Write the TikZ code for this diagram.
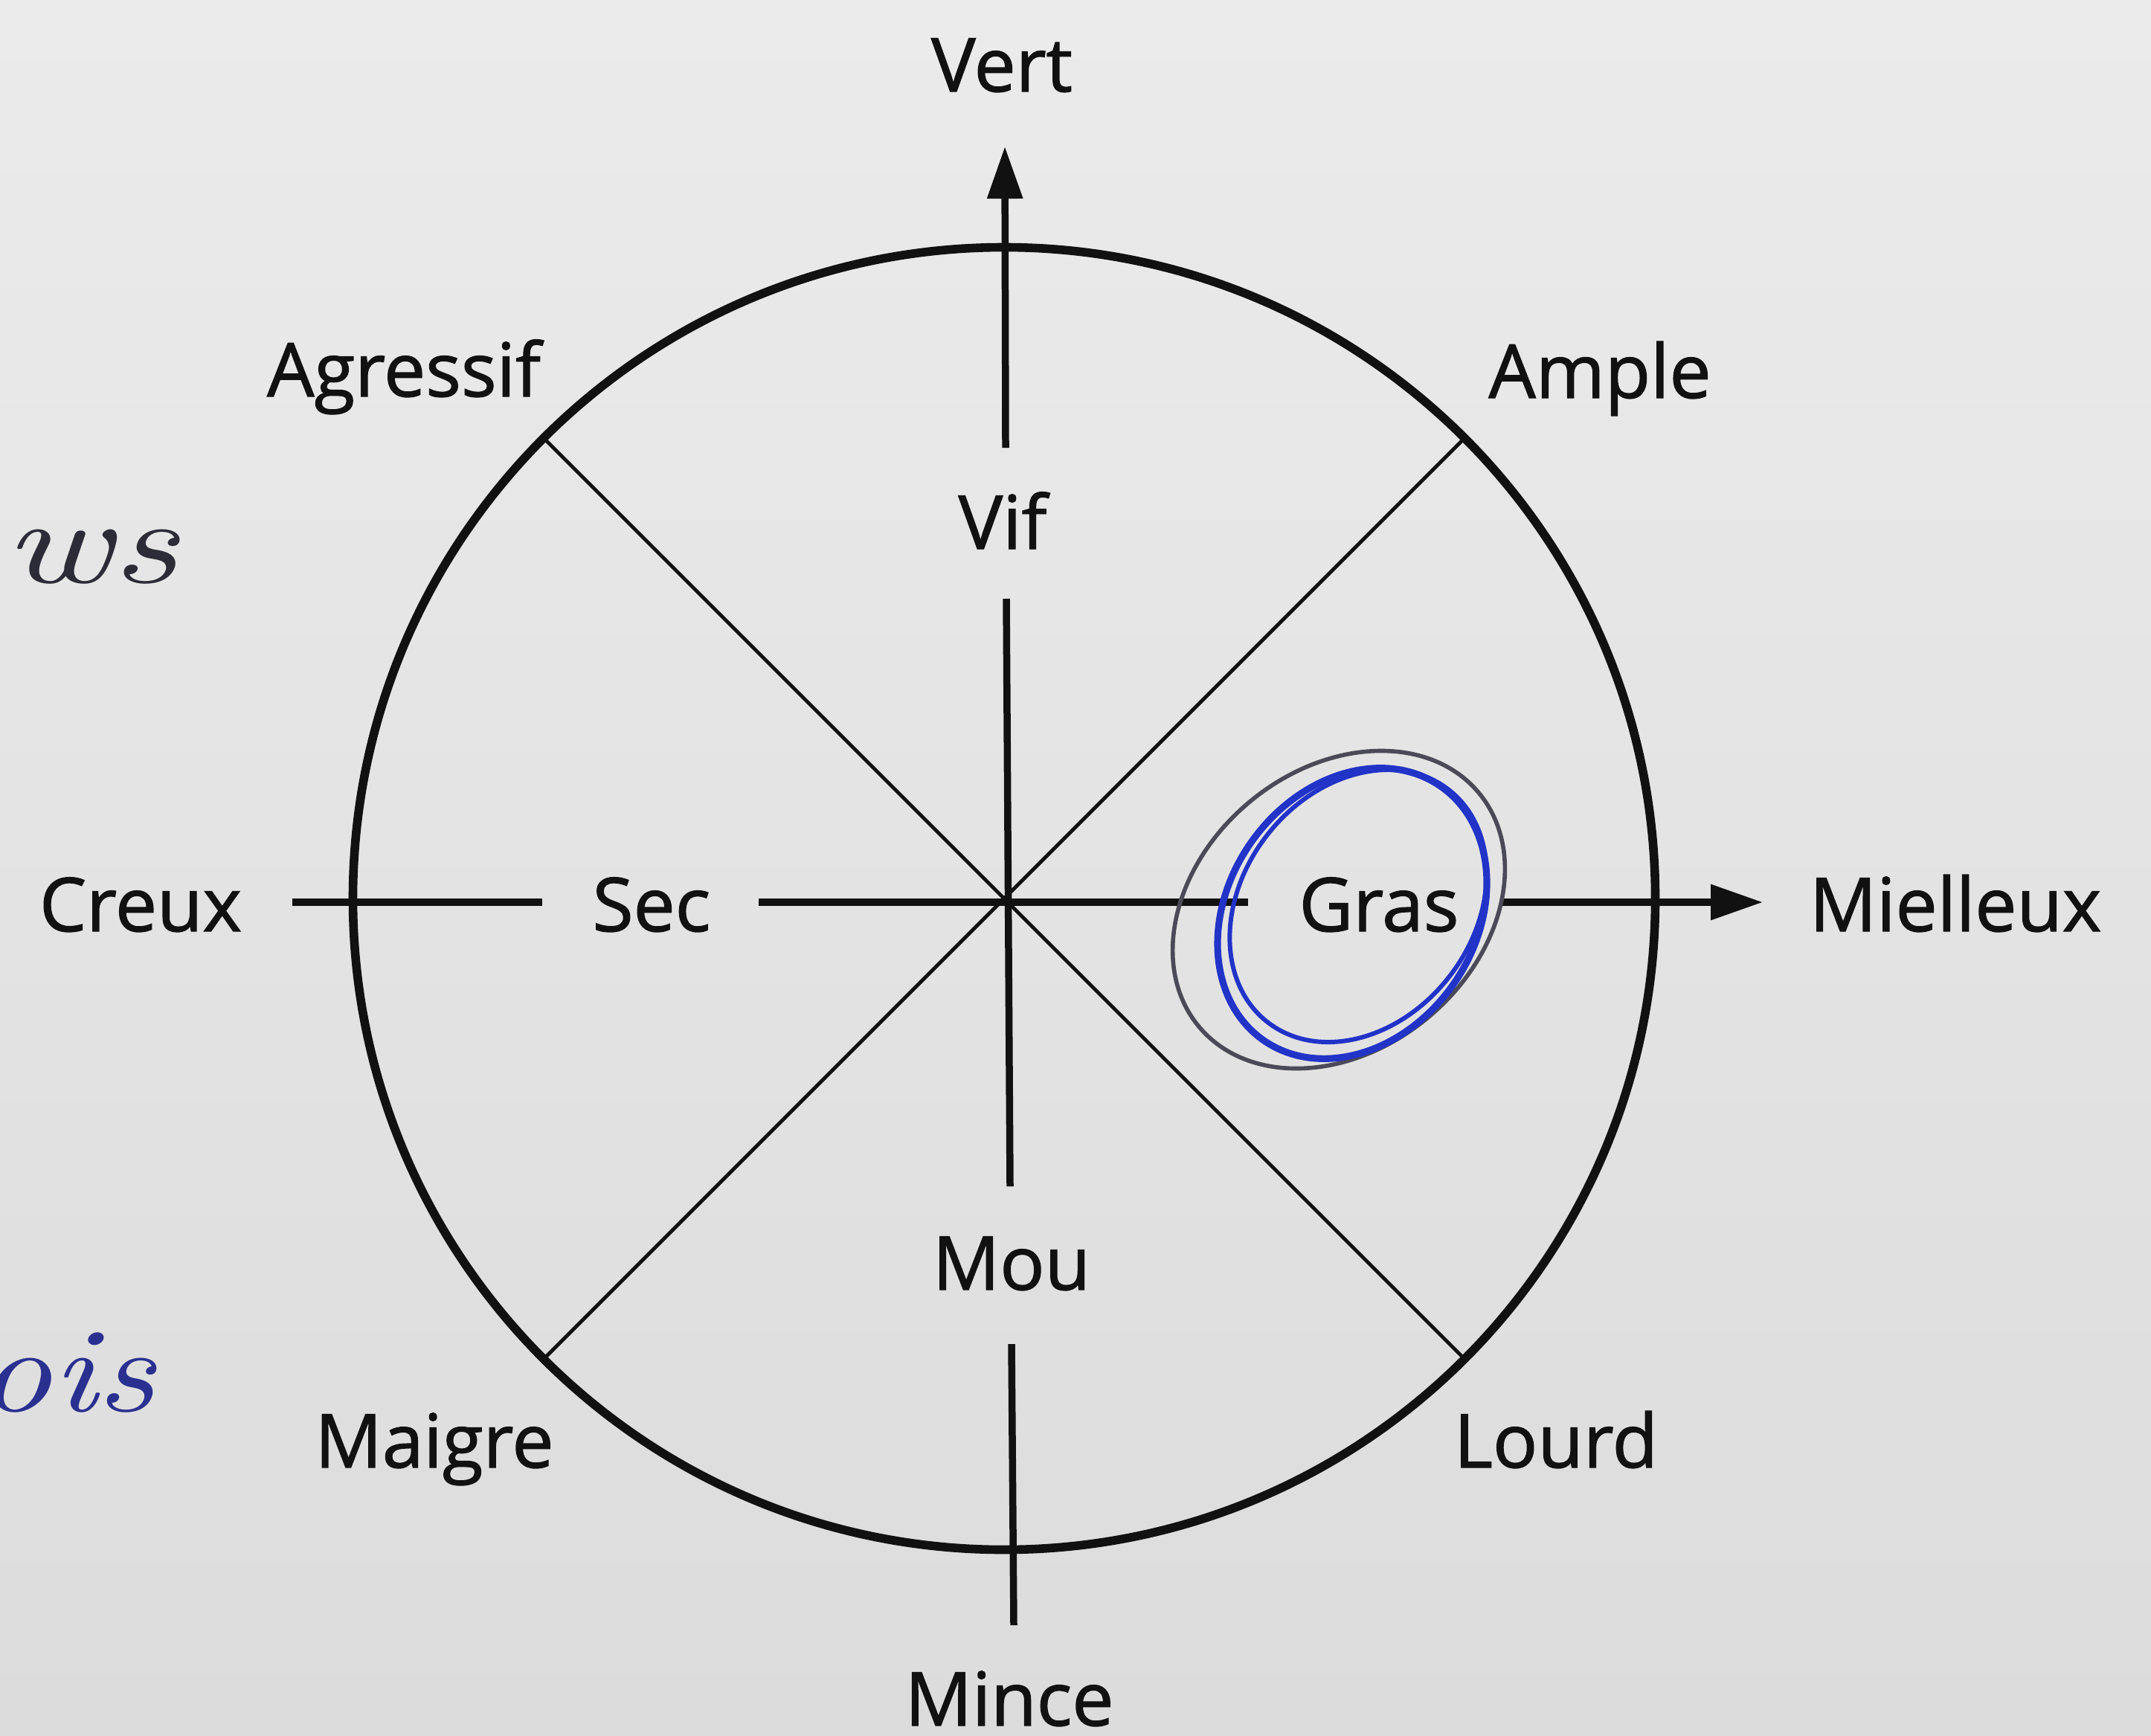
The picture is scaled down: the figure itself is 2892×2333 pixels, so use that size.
\documentclass[tikz,border=0pt]{standalone}
\usepackage{fontspec}
\setmainfont{Open Sans}
\newfontfamily\labelfont{Open Sans}[FakeBold=1.3]
\newfontfamily\handfont{lmroman10-italic.otf}
\usetikzlibrary{arrows.meta}
\definecolor{ink}{HTML}{111111}
\definecolor{bgtop}{HTML}{EBEBEB}
\definecolor{bgbot}{HTML}{DCDCDC}
\definecolor{penblue}{HTML}{2233C8}
\definecolor{pengray}{HTML}{4A4A58}
\definecolor{handdark}{HTML}{2C2C38}
\definecolor{handblue}{HTML}{2A3090}
\begin{document}
\begin{tikzpicture}[x=0.01cm,y=-0.01cm,
  lbl/.style={font=\labelfont\fontsize{28.45}{34}\selectfont, text=ink, inner sep=0pt, anchor=base},
  hand/.style={font=\handfont\fontsize{46}{50}\selectfont, inner sep=0pt, anchor=base west},
  axisline/.style={draw=ink, line width=2.7pt},
  diagline/.style={draw=ink, line width=1.4pt},
  rimline/.style={draw=ink, line width=3.3pt},
  tipped/.style={-{Triangle[length=0.7cm,width=0.46cm]}},
  blueink/.style={draw=penblue, line width=2.6pt},
  grayink/.style={draw=pengray, line width=1.6pt}]
\shade[top color=bgtop, bottom color=bgbot] (0,0) rectangle (2892,2333);
\useasboundingbox (0,0) rectangle (2892,2333);

% labels
\node[lbl] (vert)   at (1347,123)  {Vert};
\node[lbl] (mince)  at (1357,2320) {Mince};
\node[lbl] (creux)  at (189,1252)  {Creux};
\node[lbl] (miel)   at (2629,1252) {Mielleux};
\node[lbl] (sec)    at (876,1252)  {Sec};
\node[lbl] (gras)   at (1854,1252) {Gras};
\node[lbl] (vif)    at (1348,738)  {Vif};
\node[lbl] (mou)    at (1360,1734) {Mou};
\node[lbl] (agr)    at (543,533)   {Agressif};
\node[lbl] (ample)  at (2151,535)  {Ample};
\node[lbl] (maigre) at (584,1973)  {Maigre};
\node[lbl] (lourd)  at (2092,1973) {Lourd};

% coordinates
\coordinate (c0) at (1350,1208);
\coordinate (dA) at (731,589);
\coordinate (dB) at (1969,1827);
\coordinate (dC) at (1969,589);
\coordinate (dD) at (731,1827);
\coordinate (vtop) at (1351,197);
\coordinate (v1) at (1352,602);
\coordinate (v2) at (1353,805);
\coordinate (v3) at (1358,1595);
\coordinate (v4) at (1360,1807);
\coordinate (vbot) at (1363,2185);
\coordinate (h0) at (393,1213);
\coordinate (h1) at (729,1213);
\coordinate (h2) at (1020,1213);
\coordinate (h3) at (1678,1213);
\coordinate (h4) at (2020,1213);
\coordinate (htip) at (2370,1213);

% diagonals
\draw[diagline] (dA) -- (dB);
\draw[diagline] (dC) -- (dD);
% axes
\draw[axisline,tipped] (v1) -- (vtop);
\draw[axisline] (v2) -- (v3);
\draw[axisline] (v4) -- (vbot);
\draw[axisline] (h0) -- (h1);
\draw[axisline] (h2) -- (h3);
\draw[axisline,tipped] (h4) -- (htip);
% rim
\draw[rimline] (c0) circle [radius=8.75cm];

% hand-drawn marks around Gras
\draw[grayink, shift={(1800,1223)}, rotate=40] (0,0) ellipse [x radius=2.45cm, y radius=1.88cm];
\draw[blueink, shift={(1818,1228)}, rotate=55] (0,0) ellipse [x radius=2.08cm, y radius=1.66cm];
\draw[blueink, line width=1.7pt, shift={(1826,1218)}, rotate=52] (0,0) ellipse [x radius=1.98cm, y radius=1.55cm];

% handwritten notes
\node[hand, text=handdark, xscale=1.35] (ws) at (5,783) {ws};
\node[hand, text=handblue, xscale=1.2] (ois) at (-30,1897) {ois};
\end{tikzpicture}
\end{document}
